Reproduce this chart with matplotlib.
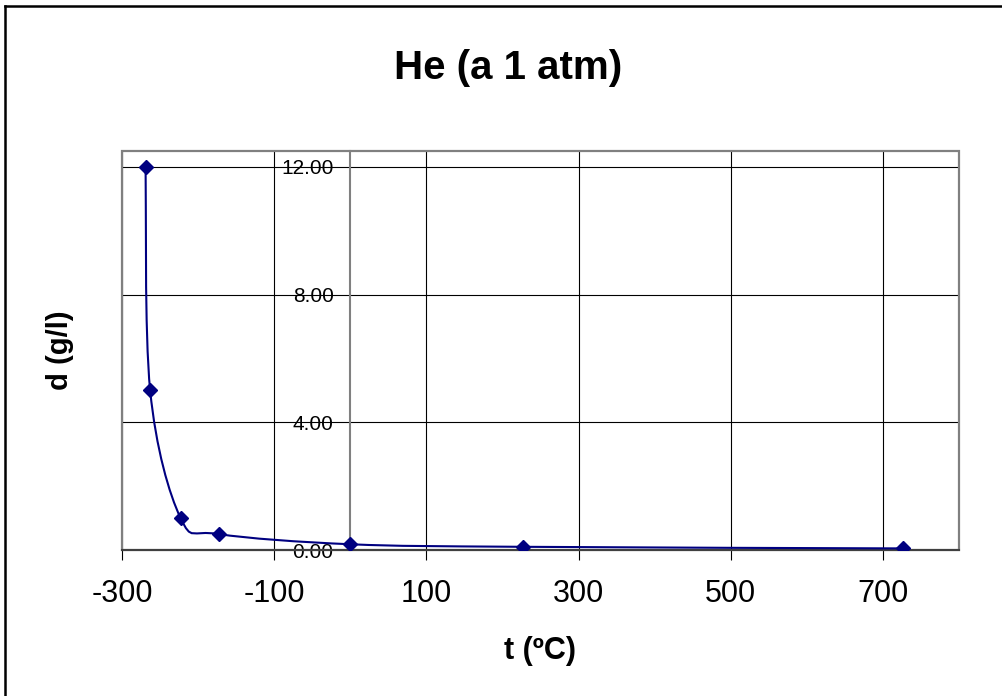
import matplotlib
matplotlib.use("Agg")
import matplotlib.pyplot as plt
from matplotlib.path import Path
from matplotlib.patches import PathPatch, Rectangle
from matplotlib.lines import Line2D
import numpy as np

plt.rcParams['font.family'] = ['Liberation Sans', 'DejaVu Sans']

# helium density at 1 atm
temp_c = [-269, -263, -223, -173, 0, 227, 727]
density = [12.0, 5.0, 1.0, 0.5, 0.18, 0.10, 0.05]
x_ticks = [-300, -100, 100, 300, 500, 700]
y_ticks = [0, 4, 8, 12]

navy = '#000080'

fig = plt.figure(figsize=(10.03, 6.96), dpi=100)
ax = fig.add_axes([122 / 1003, 1 - 550 / 696, 837 / 1003, 399 / 696])

# smoothed line (Catmull-Rom style bezier through the points, like Excel)
pts = np.column_stack([temp_c, density]).astype(float)
verts = [pts[0]]
codes = [Path.MOVETO]
n = len(pts)
for i in range(n - 1):
    p_prev = pts[max(i - 1, 0)]
    p0 = pts[i]
    p1 = pts[i + 1]
    p_next = pts[min(i + 2, n - 1)]
    c1 = p0 + (p1 - p_prev) / 6
    c2 = p1 - (p_next - p0) / 6
    verts += [c1, c2, p1]
    codes += [Path.CURVE4] * 3
ax.add_patch(PathPatch(Path(verts, codes), fill=False, edgecolor=navy, lw=1.5, zorder=3))
ax.plot(temp_c, density, linestyle='none', marker='D', ms=6.8, color=navy, zorder=4)

# y axis crosses at x = 0 (do this before setting ticks, it resets them)
ax.spines['left'].set_position(('data', 0))
ax.spines['left'].set_color('#808080')
ax.spines['left'].set_linewidth(1.5)
ax.spines['right'].set_visible(False)
ax.spines['top'].set_visible(False)
ax.spines['bottom'].set_color('#404040')
ax.spines['bottom'].set_linewidth(1.5)
ax.add_patch(Rectangle((0, 0), 1, 1, transform=ax.transAxes, fill=False,
                       edgecolor='#808080', lw=1.6, zorder=2, clip_on=False))

ax.set_xlim(-300, 800)
ax.set_ylim(0, 12.5)
ax.set_xticks(x_ticks)
ax.set_xticklabels([str(v) for v in x_ticks])
ax.set_yticks(y_ticks)
ax.set_yticklabels(['%.2f' % v for v in y_ticks])

ax.grid(True, color='black', lw=0.8)
ax.set_axisbelow(True)

ax.tick_params(axis='y', length=0, pad=12, labelsize=15)
ax.tick_params(axis='x', length=7, width=0.8, direction='out', pad=14, labelsize=22)

ax.set_xlabel('t (ºC)', fontsize=22, fontweight='bold', va='center')
ax.xaxis.set_label_coords(0.5, -0.252)
ax.set_ylabel('d (g/l)', fontsize=21, fontweight='bold', va='center')
ax.yaxis.set_label_coords(-0.074, 0.5)

fig.text(508 / 1003, 1 - 68 / 696, 'He (a 1 atm)', fontsize=29, fontweight='bold',
         ha='center', va='center')

# chart area border (only left and top edges visible)
fig.add_artist(Line2D([4.5 / 1003, 4.5 / 1003], [0, 1 - 6 / 696], transform=fig.transFigure,
                      color='black', lw=1.8))
fig.add_artist(Line2D([4.5 / 1003, 1], [1 - 6 / 696, 1 - 6 / 696], transform=fig.transFigure,
                      color='black', lw=1.8))

fig.savefig('out.png', dpi=100)
